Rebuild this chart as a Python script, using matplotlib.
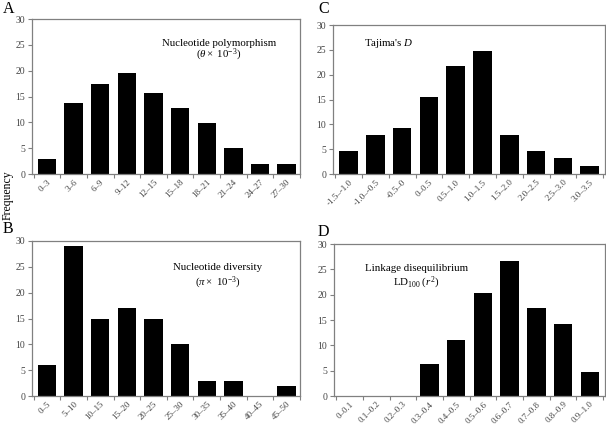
import matplotlib
matplotlib.use("Agg")
import matplotlib.pyplot as plt
import matplotlib.transforms as mtransforms
import numpy as np

plt.rcParams['font.family'] = ['Liberation Serif', 'DejaVu Serif']
plt.rcParams['mathtext.fontset'] = 'custom'
plt.rcParams['mathtext.rm'] = 'Liberation Serif'
plt.rcParams['mathtext.it'] = 'Liberation Serif:italic'

# Data
cats_a = ["0\u20133", "3\u20136", "6\u20139", "9\u201312", "12\u201315", "15\u201318",
          "18\u201321", "21\u201324", "24\u201327", "27\u201330"]
vals_a = [3, 13.7, 17.5, 19.5, 15.6, 12.7, 9.8, 5, 2, 2]

cats_b = ["0\u20135", "5\u201310", "10\u201315", "15\u201320", "20\u201325", "25\u201330",
          "30\u201335", "35\u201340", "40\u201345", "45\u201350"]
vals_b = [6, 29, 15, 17, 15, 10, 3, 3, 0, 2]

cats_c = ["-1.5\u2013-1.0", "-1.0\u2013-0.5", "-0.5\u20130", "0\u20130.5", "0.5\u20131.0",
          "1.0\u20131.5", "1.5\u20132.0", "2.0\u20132.5", "2.5\u20133.0", "3.0\u20133.5"]
vals_c = [4.7, 7.8, 9.3, 15.5, 21.7, 24.7, 7.8, 4.7, 3.2, 1.6]

cats_d = ["0\u20130.1", "0.1\u20130.2", "0.2\u20130.3", "0.3\u20130.4", "0.4\u20130.5",
          "0.5\u20130.6", "0.6\u20130.7", "0.7\u20130.8", "0.8\u20130.9", "0.9\u20131.0"]
vals_d = [0, 0, 0, 6.3, 11, 20.4, 26.7, 17.3, 14.2, 4.7]

W, H = 606, 424
fig = plt.figure(figsize=(W / 100, H / 100), dpi=100)

def px_axes(l, t, r, b):
    return fig.add_axes([l / W, 1 - b / H, (r - l) / W, (b - t) / H])

spine_col = '#808080'
tick_col = '#444444'

def style(ax, cats, vals, xlim, letter, lx, ly):
    x = np.arange(len(cats))
    ax.bar(x, vals, width=0.69, color='black', edgecolor='none')
    ax.set_xlim(*xlim)
    ax.set_ylim(0, 30)
    ax.set_yticks(range(0, 31, 5))
    ax.set_xticks(x)
    labels = ax.set_xticklabels(cats, rotation=45, ha='right', rotation_mode='anchor',
                                fontsize=6.5, color=tick_col)
    off = mtransforms.ScaledTranslation(5 / 100, 0, fig.dpi_scale_trans)
    for lab in labels:
        lab.set_transform(lab.get_transform() + off)
    ax.set_xticks(np.arange(-0.5, len(cats), 1.0), minor=True)
    ax.tick_params(axis='x', which='major', length=0, pad=3)
    ax.tick_params(axis='x', which='minor', length=3, color=spine_col, width=0.8)
    ax.tick_params(axis='y', length=3, color=spine_col, width=0.8, labelsize=7,
                   labelcolor=tick_col, pad=2)
    for s in ax.spines.values():
        s.set_color(spine_col)
        s.set_linewidth(0.9)
    fig.text(lx / W, 1 - ly / H, letter, fontsize=11.5, ha='left', va='top')

axA = px_axes(32, 19, 300, 174)
style(axA, cats_a, vals_a, (-0.56, 9.39), 'A', 3, 1)
axA.text(0.697, 0.845, 'Nucleotide polymorphism', transform=axA.transAxes,
         ha='center', va='center', fontsize=7.8)
axA.text(0.697, 0.768, r'($\theta\times$ 10$^{-3}$)', transform=axA.transAxes,
         ha='center', va='center', fontsize=7.8)

axC = px_axes(333, 25, 605, 174)
style(axC, cats_c, vals_c, (-0.58, 9.57), 'C', 318, 1)
axC.text(0.206, 0.879, r"Tajima's $D$", transform=axC.transAxes,
         ha='center', va='center', fontsize=7.8)

axB = px_axes(32, 241, 300, 396)
style(axB, cats_b, vals_b, (-0.56, 9.39), 'B', 3, 221)
axB.text(0.692, 0.832, 'Nucleotide diversity', transform=axB.transAxes,
         ha='center', va='center', fontsize=7.8)
axB.text(0.692, 0.729, r'($\pi\times$ 10$^{-3}$)', transform=axB.transAxes,
         ha='center', va='center', fontsize=7.8)

axD = px_axes(334, 244, 605, 396)
style(axD, cats_d, vals_d, (-0.58, 9.57), 'D', 318, 224)
axD.text(0.305, 0.842, 'Linkage disequilibrium', transform=axD.transAxes,
         ha='center', va='center', fontsize=7.8)
axD.text(0.305, 0.743, r'LD$_{100}$ ($r^{2}$)', transform=axD.transAxes,
         ha='center', va='center', fontsize=7.8)

fig.text(8 / W, 1 - 195 / H, 'Frequency', rotation=90, ha='center', va='center',
         fontsize=8.5)

fig.savefig('out.png', dpi=100)
